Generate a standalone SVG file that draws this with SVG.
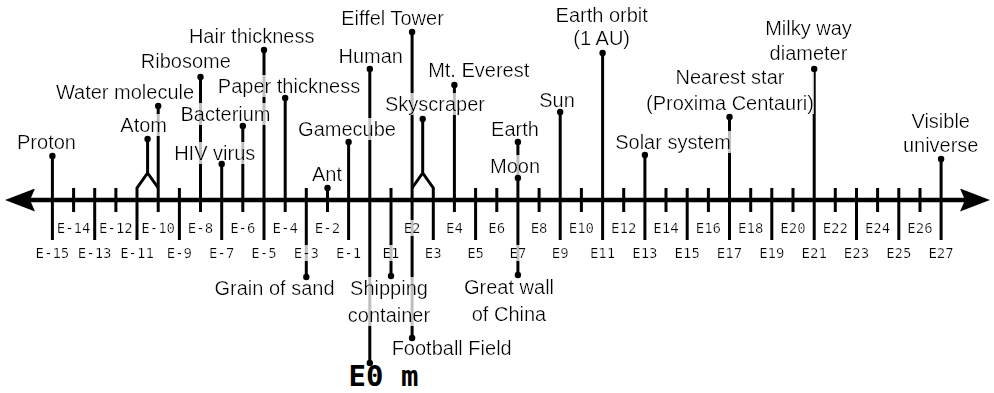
<svg xmlns="http://www.w3.org/2000/svg" width="994" height="393" viewBox="0 0 994 393">
<defs>
<style>
.ax{stroke:#000;stroke-width:4.5;fill:none}
.ln{stroke:#000;stroke-width:3;fill:none}
.dot{fill:#000}
.lb{font-family:"Liberation Sans",Arial,sans-serif;font-size:20px;fill:#000;text-anchor:middle;filter:url(#bg)}
.tk{font-family:"DejaVu Sans Mono","Liberation Mono",monospace;font-size:14px;fill:#000;text-anchor:middle;filter:url(#bg)}
.big{font-family:"DejaVu Sans Mono","Liberation Mono",monospace;font-size:29px;font-weight:bold;fill:#000;text-anchor:middle}
</style>
<filter id="bg" x="0" y="0" width="1" height="1">
<feFlood flood-color="#fff" flood-opacity="0.75" result="f"/>
<feMerge><feMergeNode in="f"/><feMergeNode in="SourceGraphic"/></feMerge>
</filter>
<marker id="arr" viewBox="0 0 30 23" refX="5" refY="11.5" markerWidth="30" markerHeight="23" markerUnits="userSpaceOnUse" orient="auto-start-reverse">
<path d="M0,0 L30,11.5 L0,23 L5,11.5 Z" fill="#000"/>
</marker>
</defs>
<rect width="994" height="393" fill="#fff"/>

<g id="connectors">
<line class="ax" x1="30" y1="200" x2="965" y2="200" marker-start="url(#arr)" marker-end="url(#arr)"/>
<path class="ln" d="M73.6,188V212 M115.9,188V212 M496.8,188V212 M539.1,188V212 M581.4,188V212 M623.7,188V212 M666,188V212 M708.4,188V212 M750.7,188V212 M793,188V212 M835.3,188V212 M877.6,188V212 M920,188V212"/>
<path class="ln" d="M94.7,188V240 M179.4,188V240 M475.6,188V240 M687.2,188V240 M771.8,188V240 M856.5,188V240 M898.8,188V240"/>
<path class="ln" d="M52.4,156V240"/>
<path class="ln" d="M158.2,106V212"/>
<path class="ln" d="M147.6,139V173 M137,240V188L147.6,173L158.2,188"/>
<path class="ln" d="M200.5,77V212"/>
<path class="ln" d="M221.7,164V240"/>
<path class="ln" d="M242.8,126V212"/>
<path class="ln" d="M264,50V240"/>
<path class="ln" d="M285.2,98V212"/>
<path class="ln" d="M306.3,188V277"/>
<path class="ln" d="M327.5,188V212"/>
<path class="ln" d="M348.6,142V240"/>
<path class="ln" d="M369.8,69V363"/>
<path class="ln" d="M391,188V276"/>
<path class="ln" d="M412.1,32V338"/>
<path class="ln" d="M422.7,119V173 M433.3,240V188L422.7,173L412.1,188"/>
<path class="ln" d="M454.4,85V212"/>
<path class="ln" d="M517.9,142V275"/>
<path class="ln" d="M560.2,112V240"/>
<path class="ln" d="M602.6,53V240"/>
<path class="ln" d="M644.9,155V240"/>
<path class="ln" d="M729.5,117V240"/>
<path class="ln" d="M814.2,69V240"/>
<path class="ln" d="M941.1,159V240"/>
</g>

<g id="proton"><text class="lb" x="46.5" y="149">Proton</text><circle class="dot" cx="52.4" cy="156" r="3.2"/></g>
<g id="atom"><text class="lb" x="143.7" y="132">Atom</text><circle class="dot" cx="147.6" cy="139" r="3.2"/></g>
<g id="water-molecule"><text class="lb" x="125" y="99">Water molecule</text><circle class="dot" cx="158.2" cy="106" r="3.2"/></g>
<g id="ribosome"><text class="lb" x="185.8" y="68">Ribosome</text><circle class="dot" cx="200.5" cy="77" r="3.2"/></g>
<g id="hair-thickness"><text class="lb" x="251.7" y="43">Hair thickness</text><circle class="dot" cx="264" cy="50" r="3.2"/></g>
<g id="paper-thickness"><text class="lb" x="289" y="93">Paper thickness</text><circle class="dot" cx="285.2" cy="98" r="3.2"/></g>
<g id="bacterium"><text class="lb" x="225.5" y="121">Bacterium</text><circle class="dot" cx="242.8" cy="126" r="3.2"/></g>
<g id="hiv-virus"><text class="lb" x="214.7" y="160">HIV virus</text><circle class="dot" cx="221.7" cy="164" r="3.2"/></g>
<g id="gamecube"><text class="lb" x="347" y="136">Gamecube</text><circle class="dot" cx="348.6" cy="142" r="3.2"/></g>
<g id="ant"><text class="lb" x="327" y="181">Ant</text><circle class="dot" cx="327.5" cy="188" r="3.2"/></g>
<g id="human"><text class="lb" x="370.7" y="63">Human</text><circle class="dot" cx="369.8" cy="69" r="3.2"/></g>
<g id="eiffel-tower"><text class="lb" x="392.5" y="25">Eiffel Tower</text><circle class="dot" cx="412.1" cy="32" r="3.2"/></g>
<g id="skyscraper"><text class="lb" x="435" y="111">Skyscraper</text><circle class="dot" cx="422.7" cy="119" r="3.2"/></g>
<g id="mt-everest"><text class="lb" x="478.7" y="77">Mt. Everest</text><circle class="dot" cx="454.4" cy="85" r="3.2"/></g>
<g id="earth"><text class="lb" x="515" y="136">Earth</text><circle class="dot" cx="517.9" cy="142" r="3.2"/></g>
<g id="moon"><text class="lb" x="515" y="173">Moon</text><circle class="dot" cx="517.9" cy="178" r="3.2"/></g>
<g id="sun"><text class="lb" x="557" y="107">Sun</text><circle class="dot" cx="560.2" cy="112" r="3.2"/></g>
<g id="earth-orbit"><text class="lb" x="601.7" y="22">Earth orbit<tspan x="601.7" dy="23">(1 AU)</tspan></text><circle class="dot" cx="602.6" cy="53" r="3.2"/></g>
<g id="solar-system"><text class="lb" x="673" y="149">Solar system</text><circle class="dot" cx="644.9" cy="155" r="3.2"/></g>
<g id="nearest-star"><text class="lb" x="730" y="84">Nearest star<tspan x="730" dy="26">(Proxima Centauri)</tspan></text><circle class="dot" cx="729.5" cy="117" r="3.2"/></g>
<g id="milky-way"><text class="lb" x="808.5" y="35">Milky way<tspan x="808.5" dy="25">diameter</tspan></text><circle class="dot" cx="814.2" cy="69" r="3.2"/></g>
<g id="visible-universe"><text class="lb" x="940.7" y="128">Visible<tspan x="940.7" dy="24">universe</tspan></text><circle class="dot" cx="941.1" cy="159" r="3.2"/></g>
<g id="grain-of-sand"><text class="lb" x="274.5" y="295">Grain of sand</text><circle class="dot" cx="306.3" cy="277" r="3.2"/></g>
<g id="shipping-container"><text class="lb" x="389" y="295">Shipping<tspan x="389" dy="27">container</tspan></text><circle class="dot" cx="391" cy="276" r="3.2"/></g>
<g id="great-wall"><text class="lb" x="509" y="294">Great wall<tspan x="509" dy="27">of China</tspan></text><circle class="dot" cx="517.9" cy="275" r="3.2"/></g>
<g id="football-field"><text class="lb" x="451.7" y="355">Football Field</text><circle class="dot" cx="412.1" cy="338" r="3.2"/></g>
<g id="e0"><text class="big" x="383.5" y="386">E0 m</text><circle class="dot" cx="369.8" cy="363" r="3.2"/></g>

<g id="tick-labels">
<text class="tk" x="73.6" y="233">E-14</text>
<text class="tk" x="115.9" y="233">E-12</text>
<text class="tk" x="158.2" y="233">E-10</text>
<text class="tk" x="200.5" y="233">E-8</text>
<text class="tk" x="242.8" y="233">E-6</text>
<text class="tk" x="285.2" y="233">E-4</text>
<text class="tk" x="327.5" y="233">E-2</text>
<text class="tk" x="412.1" y="233">E2</text>
<text class="tk" x="454.4" y="233">E4</text>
<text class="tk" x="496.8" y="233">E6</text>
<text class="tk" x="539.1" y="233">E8</text>
<text class="tk" x="581.4" y="233">E10</text>
<text class="tk" x="623.7" y="233">E12</text>
<text class="tk" x="666" y="233">E14</text>
<text class="tk" x="708.4" y="233">E16</text>
<text class="tk" x="750.7" y="233">E18</text>
<text class="tk" x="793" y="233">E20</text>
<text class="tk" x="835.3" y="233">E22</text>
<text class="tk" x="877.6" y="233">E24</text>
<text class="tk" x="920" y="233">E26</text>
<text class="tk" x="52.4" y="258">E-15</text>
<text class="tk" x="94.7" y="258">E-13</text>
<text class="tk" x="137" y="258">E-11</text>
<text class="tk" x="179.4" y="258">E-9</text>
<text class="tk" x="221.7" y="258">E-7</text>
<text class="tk" x="264" y="258">E-5</text>
<text class="tk" x="306.3" y="258">E-3</text>
<text class="tk" x="348.6" y="258">E-1</text>
<text class="tk" x="391" y="258">E1</text>
<text class="tk" x="433.3" y="258">E3</text>
<text class="tk" x="475.6" y="258">E5</text>
<text class="tk" x="517.9" y="258">E7</text>
<text class="tk" x="560.2" y="258">E9</text>
<text class="tk" x="602.6" y="258">E11</text>
<text class="tk" x="644.9" y="258">E13</text>
<text class="tk" x="687.2" y="258">E15</text>
<text class="tk" x="729.5" y="258">E17</text>
<text class="tk" x="771.8" y="258">E19</text>
<text class="tk" x="814.2" y="258">E21</text>
<text class="tk" x="856.5" y="258">E23</text>
<text class="tk" x="898.8" y="258">E25</text>
<text class="tk" x="941.1" y="258">E27</text>
</g>
</svg>
